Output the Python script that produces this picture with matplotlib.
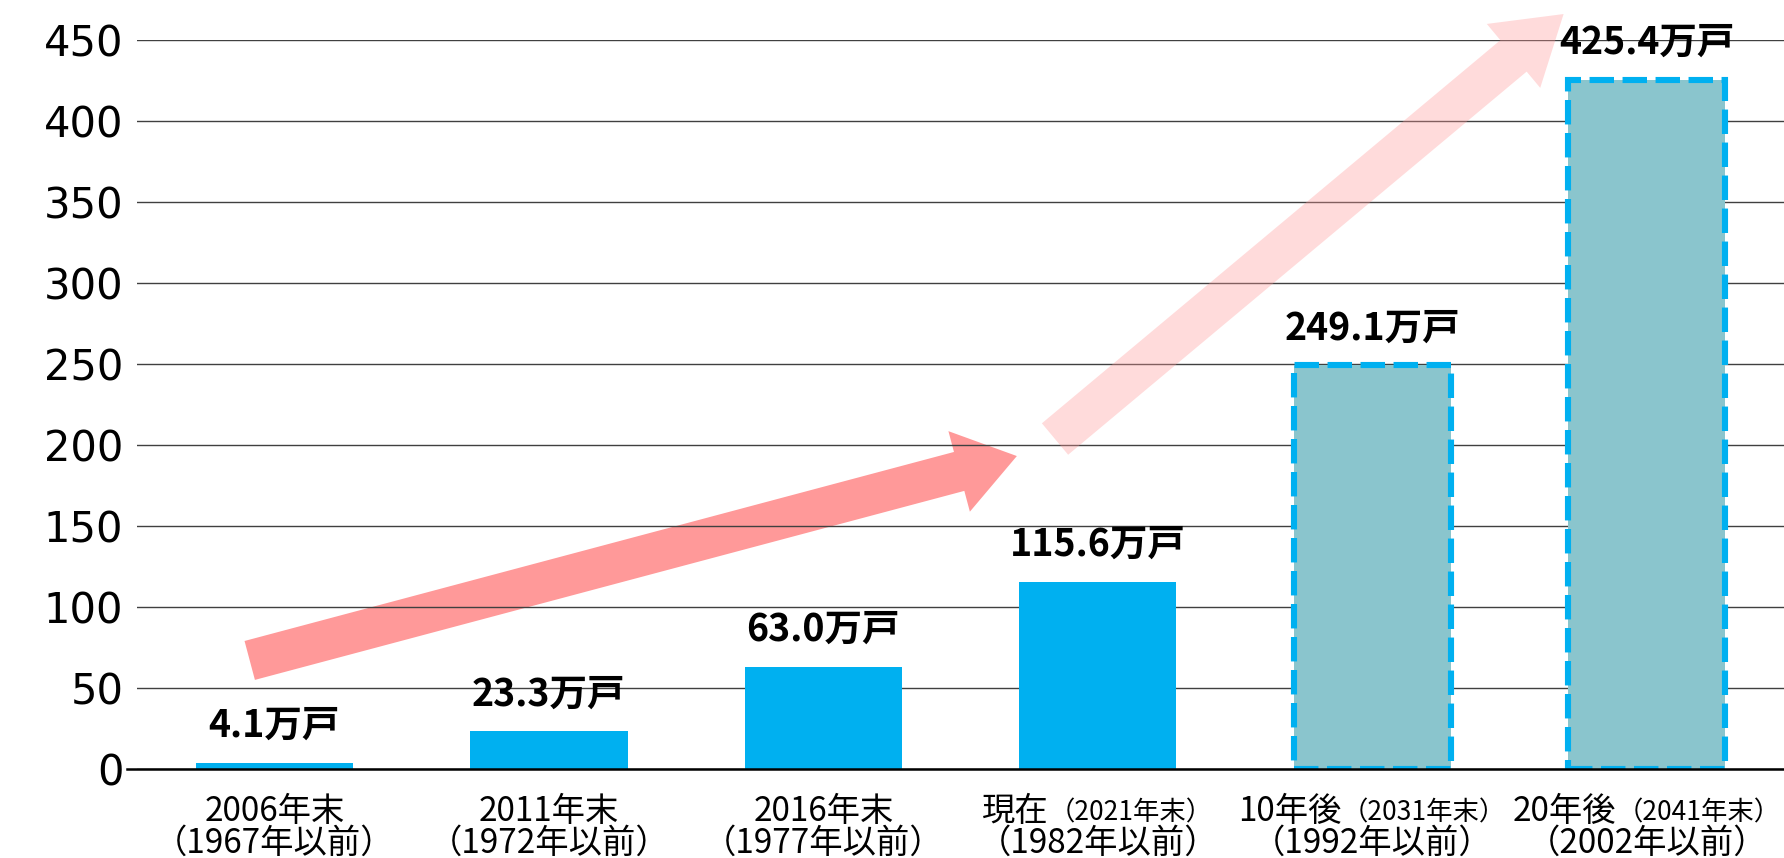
import matplotlib
matplotlib.use('Agg')
import matplotlib.pyplot as plt
import matplotlib.transforms as mtransforms
from matplotlib.offsetbox import TextArea, HPacker, AnnotationBbox
from matplotlib.patches import FancyArrowPatch

# ---- data ----
categories_main = ['2006年末', '2011年末', '2016年末', '現在', '10年後', '20年後']
categories_sub = ['', '', '', '（2021年末）', '（2031年末）', '（2041年末）']
categories_line2 = ['（1967年以前）', '（1972年以前）', '（1977年以前）',
                    '（1982年以前）', '（1992年以前）', '（2002年以前）']
values = [4.1, 23.3, 63.0, 115.6, 249.1, 425.4]
is_projection = [False, False, False, False, True, True]
value_labels = ['4.1万戸', '23.3万戸', '63.0万戸', '115.6万戸', '249.1万戸', '425.4万戸']
y_ticks = [0, 50, 100, 150, 200, 250, 300, 350, 400, 450]

# decorative trend arrows (start, end) in data units
arrow_solid = ((-0.090, 67.1), (2.705, 193.2))
arrow_faint = ((2.844, 203.7), (4.697, 465.9))

JP = ['Noto Sans CJK JP', 'DejaVu Sans']
SOLID = '#00B0F0'
PROJ_FACE = '#8AC5CD'

fig = plt.figure(figsize=(17.84, 8.58), dpi=100)
ax = fig.add_axes([0.0769, 0.1035, 0.9231, 0.8501])

x = list(range(len(values)))
for i, (v, proj) in enumerate(zip(values, is_projection)):
    if proj:
        ax.bar(i, v, width=0.573, color=PROJ_FACE, edgecolor=SOLID,
               linewidth=4.4, linestyle=(0, (4.0, 1.4)), zorder=2)
    else:
        ax.bar(i, v, width=0.573, color=SOLID, linewidth=0, zorder=2)

for i, (v, lbl) in enumerate(zip(values, value_labels)):
    ax.annotate(lbl, (i, v), xytext=(0, 27), textcoords='offset points',
                ha='center', va='center', fontsize=27, fontweight='bold',
                family=JP, color='black', zorder=5, annotation_clip=False)

ax.set_xlim(-0.5, 5.5)
ax.set_ylim(0, 450)
ax.set_yticks(y_ticks)
ax.set_yticklabels([str(t) for t in y_ticks])
ax.tick_params(axis='y', length=0, pad=10, labelsize=30, colors='black')
ax.set_xticks(x)
ax.set_xticklabels([])
ax.tick_params(axis='x', length=0)
ax.set_axisbelow(True)
ax.yaxis.grid(True, color='#404040', linewidth=1.0)
for s in ['top', 'right', 'left', 'bottom']:
    ax.spines[s].set_visible(False)
ax.axhline(0, xmin=-0.006, xmax=1.0, color='black', linewidth=1.8,
           clip_on=False, zorder=3)

# x labels
trans = mtransforms.blended_transform_factory(ax.transData, ax.transAxes)
for i in x:
    children = [TextArea(categories_main[i],
                         textprops=dict(fontsize=24, family=JP, color='black'))]
    if categories_sub[i]:
        children.append(TextArea(categories_sub[i],
                                 textprops=dict(fontsize=19, family=JP, color='black')))
    pk = HPacker(children=children, align='baseline', pad=0, sep=0)
    ab = AnnotationBbox(pk, (i, -0.0576), xycoords=('data', 'axes fraction'),
                        frameon=False, box_alignment=(0.5, 0.5), pad=0,
                        annotation_clip=False)
    ax.add_artist(ab)
    ax.text(i, -0.1015, categories_line2[i], transform=trans, ha='center',
            va='center', fontsize=24, family=JP, color='black')

# arrows
a1 = FancyArrowPatch(arrow_solid[0], arrow_solid[1],
                     arrowstyle='simple,head_length=43,head_width=60,tail_width=29',
                     mutation_scale=1, shrinkA=0, shrinkB=0, transform=ax.transData,
                     facecolor='#FF9999', edgecolor='none', linewidth=0,
                     clip_on=False, zorder=0.4)
ax.add_patch(a1)
a2 = FancyArrowPatch(arrow_faint[0], arrow_faint[1],
                     arrowstyle='simple,head_length=47,head_width=60,tail_width=29.5',
                     mutation_scale=1, shrinkA=0, shrinkB=0, transform=ax.transData,
                     facecolor='#FF9999', alpha=0.35, edgecolor='none', linewidth=0,
                     clip_on=False, zorder=3)
ax.add_patch(a2)

fig.savefig('out.png', dpi=100)
